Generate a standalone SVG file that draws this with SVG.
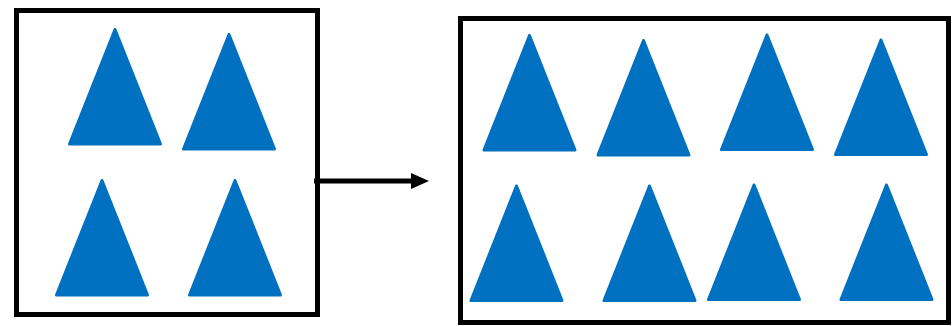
<svg xmlns="http://www.w3.org/2000/svg" xmlns:xlink="http://www.w3.org/1999/xlink" width="952" height="326" viewBox="0 0 952 326">
  <style>
    .box { fill: #ffffff; stroke: #000000; stroke-width: 5; }
    .tri { fill: #0070C0; stroke: #0070C0; stroke-width: 3; stroke-linejoin: round; }
    .conn { stroke: #000000; stroke-width: 5; fill: none; }
  </style>
  <defs>
    <polygon id="t" class="tri" points="0,1.5 -45.5,116 45.5,116"/>
    <marker id="arr" markerUnits="userSpaceOnUse" markerWidth="20" markerHeight="18" refX="0" refY="8" orient="auto">
      <polygon points="0,0 18,8 0,16" fill="#000000"/>
    </marker>
  </defs>
  <rect width="952" height="326" fill="#ffffff"/>
  <g id="box-left">
    <rect class="box" x="16.5" y="10.5" width="301" height="304"/>
    <use xlink:href="#t" href="#t" transform="translate(115,28)"/>
    <use xlink:href="#t" href="#t" transform="translate(229,33)"/>
    <use xlink:href="#t" href="#t" transform="translate(102,179)"/>
    <use xlink:href="#t" href="#t" transform="translate(235,179)"/>
  </g>
  <g id="box-right">
    <rect class="box" x="460.5" y="18.5" width="488" height="304"/>
    <use xlink:href="#t" href="#t" transform="translate(529.5,34)"/>
    <use xlink:href="#t" href="#t" transform="translate(643.5,39)"/>
    <use xlink:href="#t" href="#t" transform="translate(767,33.5)"/>
    <use xlink:href="#t" href="#t" transform="translate(881,38.5)"/>
    <use xlink:href="#t" href="#t" transform="translate(516.5,184.5)"/>
    <use xlink:href="#t" href="#t" transform="translate(649.5,184.5)"/>
    <use xlink:href="#t" href="#t" transform="translate(754,183.5)"/>
    <use xlink:href="#t" href="#t" transform="translate(886.5,183.5)"/>
  </g>
  <g id="connectors">
    <line class="conn" x1="314" y1="181" x2="411" y2="181" marker-end="url(#arr)"/>
  </g>
</svg>
